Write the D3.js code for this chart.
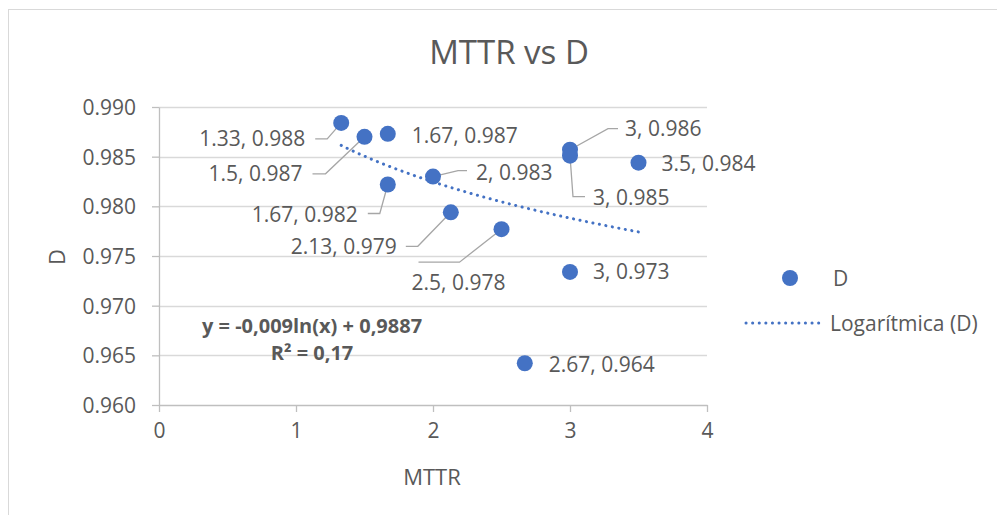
<!DOCTYPE html>
<html>
<head>
<meta charset="utf-8">
<script src="https://cdn.jsdelivr.net/npm/d3@7"></script>
<style>
  body { margin: 0; background: #fff; }
  text { font-family: "Open Sans", sans-serif; fill: #595959; }
</style>
</head>
<body>
<div id="chart"></div>
<script>

// data
var mttr = [1.33, 1.5, 1.67, 1.67, 2, 2.13, 2.5, 3, 3, 3.5, 3, 2.67];
var dValues = [0.9884, 0.9870, 0.9873, 0.9822, 0.9830, 0.9794, 0.9777, 0.9857, 0.9851, 0.9844, 0.9734, 0.9642];
var xTicks = [0, 1, 2, 3, 4];
var yTicks = [0.960, 0.965, 0.970, 0.975, 0.980, 0.985, 0.990];

// trendline as shown on the chart: y = -0,009ln(x) + 0,9887
var trendA = -0.009;
var trendB = 0.9887;
var equationText = "y = -0,009ln(x) + 0,9887";
var r2Text = "R² = 0,17";

// where each data label sits relative to its point (dx, dy, anchor, leader elbow, leader end)
var labelPlacement = [
  { dx: -36, dy: 16, anchor: "end", leader: [[-14, 16], [-26, 16]] },
  { dx: -62, dy: 37, anchor: "end", leader: [[-39, 37], [-52, 37]] },
  { dx: 24, dy: 2, anchor: "start", leader: null },
  { dx: -30, dy: 30, anchor: "end", leader: [[-8, 29], [-20, 29]] },
  { dx: 43, dy: -4, anchor: "start", leader: [[25, -6], [34, -6]] },
  { dx: -54, dy: 34, anchor: "end", leader: [[-33, 34], [-45, 34]] },
  { dx: -90, dy: 53, anchor: "start", leader: [[-42, 33], [-83, 33]] },
  { dx: 55, dy: -21, anchor: "start", leader: [[38, -21], [48, -21]] },
  { dx: 23, dy: 42, anchor: "start", leader: [[3, 41], [15, 41]] },
  { dx: 23, dy: 1, anchor: "start", leader: null },
  { dx: 23, dy: 0, anchor: "start", leader: null },
  { dx: 24, dy: 1, anchor: "start", leader: null }
];

var pointColor = '#4472C4';
var width = 997, height = 515;

var svg = d3.select("#chart").append("svg")
  .attr("width", width)
  .attr("height", height);

// chart area border
svg.append("rect")
  .attr("x", 8.5).attr("y", 9.5)
  .attr("width", 1000).attr("height", 520)
  .attr("fill", "none")
  .attr("stroke", "#d9d9d9");

var xScale = d3.scaleLinear().domain([0, 4]).range([159, 707]);
var yScale = d3.scaleLinear().domain([0.960, 0.990]).range([405, 107]);

// gridlines
svg.append("g")
  .selectAll("line")
  .data(yTicks.slice(1))
  .enter().append("line")
    .attr("x1", xScale(0)).attr("x2", xScale(4))
    .attr("y1", function(d) { return Math.round(yScale(d)) + 0.5; })
    .attr("y2", function(d) { return Math.round(yScale(d)) + 0.5; })
    .attr("stroke", "#d9d9d9")
    .attr("stroke-width", 1.3);

var xAxis = d3.axisBottom(xScale)
  .tickValues(xTicks)
  .tickFormat(d3.format("d"))
  .tickSize(7)
  .tickSizeOuter(0)
  .tickPadding(18);

var yAxis = d3.axisLeft(yScale)
  .tickValues(yTicks)
  .tickFormat(d3.format(".3f"))
  .tickSize(7)
  .tickSizeOuter(0)
  .tickPadding(16);

var gx = svg.append("g")
  .attr("transform", "translate(0," + yScale(0.960) + ")")
  .call(xAxis);

var gy = svg.append("g")
  .attr("transform", "translate(" + xScale(0) + ",0)")
  .call(yAxis);

[gx, gy].forEach(function(g) {
  g.selectAll("path, line").attr("stroke", "#bfbfbf").attr("stroke-width", 1.3);
  g.selectAll("text")
    .style("font-family", '"Open Sans", sans-serif')
    .style("font-size", "21px")
    .attr("fill", "#595959");
});
gy.selectAll("text").attr("dy", "0.36em");
gx.selectAll("text").attr("dy", "0.36em");

// title
svg.append("text")
  .attr("x", 509).attr("y", 52)
  .attr("dy", "0.36em")
  .attr("text-anchor", "middle")
  .style("font-size", "33px")
  .text("MTTR vs D");

// axis titles
svg.append("text")
  .attr("x", 432).attr("y", 477)
  .attr("dy", "0.36em")
  .attr("text-anchor", "middle")
  .style("font-size", "22px")
  .text("MTTR");

svg.append("text")
  .attr("transform", "translate(57,257) rotate(-90)")
  .attr("dy", "0.36em")
  .attr("text-anchor", "middle")
  .style("font-size", "22px")
  .text("D");

// trendline
var xMin = d3.min(mttr), xMax = d3.max(mttr);
var trendX = d3.range(0, 41).map(function(i) { return xMin + (xMax - xMin) * i / 40; });
var trendLine = d3.line()
  .x(function(d) { return xScale(d); })
  .y(function(d) { return yScale(trendA * Math.log(d) + trendB); })
  .curve(d3.curveBasis);

svg.append("path")
  .datum(trendX)
  .attr("d", trendLine)
  .attr("fill", "none")
  .attr("stroke", pointColor)
  .attr("stroke-width", 3)
  .attr("stroke-linecap", "round")
  .attr("stroke-dasharray", "0.1 6.5");

// leader lines
var points = mttr.map(function(x, i) {
  return { x: x, y: dValues[i], label: x + ", " + dValues[i].toFixed(3), place: labelPlacement[i] };
});

svg.append("g")
  .selectAll("polyline")
  .data(points.filter(function(d) { return d.place.leader; }))
  .enter().append("polyline")
    .attr("points", function(d) {
      var px = xScale(d.x), py = yScale(d.y);
      var pts = [[px, py]].concat(d.place.leader.map(function(p) { return [px + p[0], py + p[1]]; }));
      return pts.map(function(p) { return p.join(","); }).join(" ");
    })
    .attr("fill", "none")
    .attr("stroke", "#a6a6a6")
    .attr("stroke-width", 1.3);

// points
svg.append("g")
  .selectAll("circle")
  .data(points)
  .enter().append("circle")
    .attr("cx", function(d) { return xScale(d.x); })
    .attr("cy", function(d) { return yScale(d.y); })
    .attr("r", 8)
    .attr("fill", pointColor);

// data labels
svg.append("g")
  .selectAll("text")
  .data(points)
  .enter().append("text")
    .attr("x", function(d) { return xScale(d.x) + d.place.dx; })
    .attr("y", function(d) { return yScale(d.y) + d.place.dy; })
    .attr("dy", "0.36em")
    .attr("text-anchor", function(d) { return d.place.anchor; })
    .style("font-size", "21px")
    .attr("fill", "#404040")
    .text(function(d) { return d.label; });

// equation
svg.append("text")
  .attr("x", 312).attr("y", 326)
  .attr("dy", "0.36em")
  .attr("text-anchor", "middle")
  .style("font-size", "20px")
  .style("font-weight", "bold")
  .text(equationText);

svg.append("text")
  .attr("x", 312).attr("y", 353)
  .attr("dy", "0.36em")
  .attr("text-anchor", "middle")
  .style("font-size", "20px")
  .style("font-weight", "bold")
  .text(r2Text);

// legend
var legend = svg.append("g");
legend.append("circle")
  .attr("cx", 790).attr("cy", 278).attr("r", 8)
  .attr("fill", pointColor);
legend.append("text")
  .attr("x", 833).attr("y", 278)
  .attr("dy", "0.36em")
  .style("font-size", "21px")
  .text("D");
legend.append("line")
  .attr("x1", 746).attr("x2", 824)
  .attr("y1", 323).attr("y2", 323)
  .attr("stroke", pointColor)
  .attr("stroke-width", 3)
  .attr("stroke-linecap", "round")
  .attr("stroke-dasharray", "0.1 6.5");
legend.append("text")
  .attr("x", 830).attr("y", 323)
  .attr("dy", "0.36em")
  .style("font-size", "21px")
  .text("Logarítmica (D)");

</script>
</body>
</html>
